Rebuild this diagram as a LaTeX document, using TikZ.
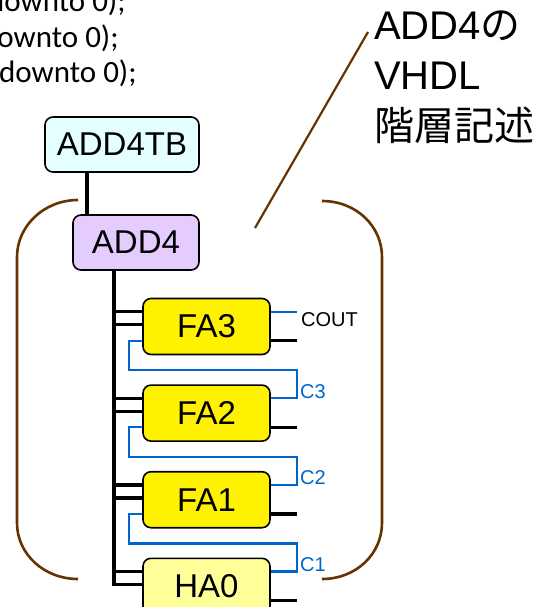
\documentclass[tikz,border=0pt]{standalone}
\usepackage{fontspec}
\setmainfont{Liberation Sans}
\newfontfamily\codefont{Carlito}
\newfontfamily\jpfont{Noto Sans CJK JP}
\usetikzlibrary{positioning}

\definecolor{tbfill}{RGB}{228,255,255}
\definecolor{addfill}{RGB}{229,204,255}
\definecolor{hafill}{RGB}{255,255,153}
\definecolor{carry}{RGB}{0,102,204}
\definecolor{bracol}{RGB}{102,51,0}

\begin{document}
\begin{tikzpicture}[x=1pt,y=-1pt,
    blk/.style={draw,line width=1.6pt,rounded corners=8pt,inner sep=0pt,
      font=\fontsize{33}{33}\selectfont},
    fa/.style={blk,fill=yellow,minimum width=127pt,minimum height=56pt},
    wire/.style={line width=3.5pt},
    cwire/.style={draw=carry,line width=2.2pt},
    clab/.style={text=carry,font=\fontsize{20}{20}\selectfont,inner sep=0pt,inner xsep=3pt},
    brk/.style={draw=bracol,line width=2.6pt},
    code/.style={font=\codefont\fontsize{31}{31}\selectfont,inner sep=0pt},
    note/.style={font=\fontsize{40}{40}\selectfont,inner sep=0pt}]
	\useasboundingbox (0,0) rectangle (540,607);
	\clip (0,0) rectangle (540,607);
	% tail of the port list
	\node [code,anchor=base west] (l1) at (-12,12) {downto 0);};
	\node [code,anchor=base west] (l2) at (-19,48) {downto 0);};
	\node [code,anchor=base west] (l3) at (-1,83) {downto 0);};
	% hierarchy
	\node [blk,fill=tbfill,minimum width=154pt,minimum height=55pt] (tb) at (122,144.5) {ADD4TB};
	\node [blk,fill=addfill,minimum width=126pt,minimum height=55pt] (add) at (136,242.5) {ADD4};
	\node [fa] (fa3) at (206.5,326.5) {FA3};
	\node [fa,below=29pt of fa3] (fa2) {FA2};
	\node [fa,below=29pt of fa2] (fa1) {FA1};
	\node [fa,fill=hafill,below=29pt of fa1] (ha0) {HA0};
	\draw [wire] ([xshift=43pt]tb.south west)--([xshift=15pt]add.north west);
	\coordinate (outx) at (297,0);
	\coordinate (inx) at (129,0);
	\coordinate (bus) at ([xshift=42pt]add.south west);
	\foreach \b in {fa3,fa2,fa1,ha0}{
		\coordinate (\b-a) at ([yshift=-14pt]\b.north west);
		\coordinate (\b-b) at ([yshift=-27pt]\b.north west);
		\coordinate (\b-s) at ([yshift=-43pt]\b.north east);
		\coordinate (\b-co) at ([yshift=-14pt]\b.north east);
		\draw [wire] (bus |- \b-a)--(\b-a);
		\draw [wire] (\b-s)--(outx |- \b-s);
	}
	\foreach \b in {fa3,fa2,fa1}
		\draw [wire] (bus |- \b-b)--(\b-b);
	\draw [wire] (bus) |- (ha0-b);
	% carry chain
	\foreach \lo/\up/\c in {fa2/fa3/C3,fa1/fa2/C2,ha0/fa1/C1}{
		\coordinate (\up-ci) at ([yshift=-43pt]\up.north west);
		\coordinate (\up-rail) at ([yshift=-15pt]\up.south);
		\draw [cwire] (\lo-co) -| (outx |- \up-rail)--(inx |- \up-rail) |- (\up-ci);
		\node [clab,anchor=base west] (\lo-lab) at (outx |- \lo-co) {\c};
	}
	\draw [cwire] (fa3-co)--(outx |- fa3-co)
		node [clab,text=black,anchor=north west] (cout) {COUT};
	% brackets round ADD4
	\draw [brk] (78,200) .. controls (44,200) and (17,226) .. (17,257)--(17,523)
		.. controls (17,554) and (44,579) .. (78,579);
	\draw [brk] (322,201) .. controls (356,201) and (382,226) .. (382,257)--(382,523)
		.. controls (382,554) and (356,579) .. (322,579);
	\node [note,anchor=base west] (n1) at (374,40) {ADD4{\jpfont の}};
	\node [note,anchor=base west] (n2) at (374,90) {VHDL};
	\node [note,anchor=base west] (n3) at (374,140) {\jpfont 階層記述};
	\coordinate (lead) at (368,32);
	\coordinate (tip) at (255,228);
	\draw [brk,line width=2.2pt] (lead)--(tip);
\end{tikzpicture}
\end{document}
